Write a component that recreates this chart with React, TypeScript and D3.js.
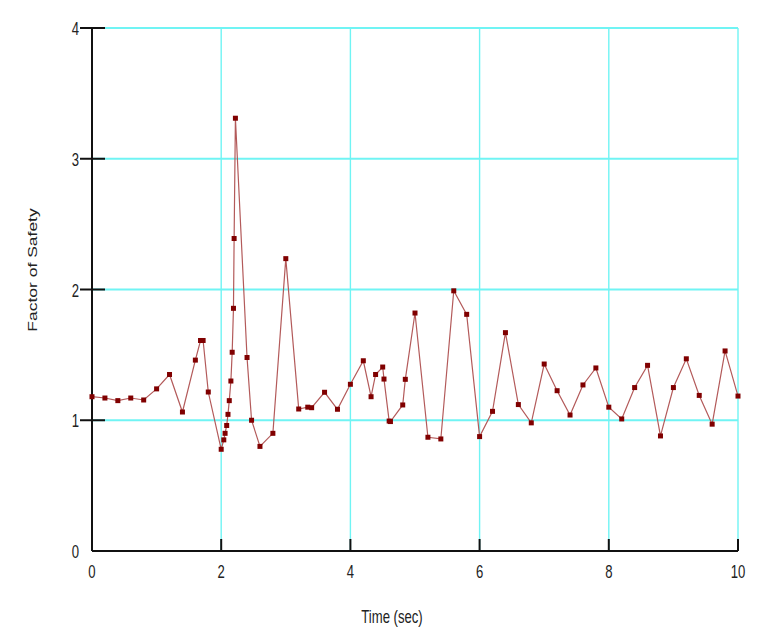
import React from "react";
import * as d3 from "d3";

const times = [0, 0.2, 0.4, 0.6, 0.8, 1.0, 1.2, 1.4, 1.6, 1.68, 1.72, 1.8, 2.0, 2.04, 2.06, 2.085, 2.105, 2.125, 2.15, 2.17, 2.19, 2.2, 2.22, 2.4, 2.47, 2.6, 2.8, 3.0, 3.2, 3.34, 3.4, 3.6, 3.8, 4.0, 4.2, 4.32, 4.39, 4.5, 4.52, 4.6, 4.62, 4.81, 4.85, 5.0, 5.2, 5.4, 5.6, 5.8, 6.0, 6.2, 6.4, 6.6, 6.8, 7.0, 7.2, 7.4, 7.6, 7.8, 8.0, 8.2, 8.4, 8.6, 8.8, 9.0, 9.2, 9.4, 9.6, 9.8, 10.0];
const factorOfSafety = [1.18, 1.17, 1.15, 1.17, 1.155, 1.24, 1.35, 1.063, 1.46, 1.61, 1.61, 1.216, 0.778, 0.85, 0.9, 0.96, 1.045, 1.15, 1.3, 1.52, 1.856, 2.39, 3.31, 1.48, 1.0, 0.8, 0.9, 2.236, 1.086, 1.1, 1.096, 1.214, 1.084, 1.275, 1.455, 1.18, 1.35, 1.407, 1.315, 0.994, 0.99, 1.117, 1.313, 1.82, 0.87, 0.857, 1.99, 1.81, 0.875, 1.068, 1.67, 1.12, 0.98, 1.43, 1.226, 1.04, 1.27, 1.4, 1.1, 1.01, 1.25, 1.42, 0.88, 1.25, 1.47, 1.19, 0.97, 1.53, 1.185];
const xTicks = [0, 2, 4, 6, 8, 10];
const yTicks = [0, 1, 2, 3, 4];

export default function App() {
  const x = d3.scaleLinear().domain([0, 10]).range([92, 738]);
  const y = d3.scaleLinear().domain([0, 4]).range([551, 28]);
  const data = times.map((t, i) => [t, factorOfSafety[i]] as [number, number]);
  const line = d3.line<[number, number]>().x(d => x(d[0])).y(d => y(d[1]));
  const font = "'Liberation Sans', Arial, sans-serif";
  const grid = "#70f4f4";
  const fs = 17.5;
  const sx = 0.75;
  return (
    <svg width={763} height={630} style={{ position: "absolute", left: 0, top: 0, background: "#fff" }}>
      {xTicks.filter(t => t > 0).map(t => (
        <line key={"gx" + t} x1={x(t)} x2={x(t)} y1={y(0)} y2={y(4)} stroke={grid} strokeWidth={1.4} />
      ))}
      {yTicks.filter(t => t > 0).map(t => (
        <line key={"gy" + t} x1={x(0)} x2={x(10)} y1={y(t)} y2={y(t)} stroke={grid} strokeWidth={1.8} />
      ))}
      <line x1={x(0)} x2={x(0)} y1={y(4)} y2={y(0)} stroke="#111" strokeWidth={2} />
      <line x1={x(0)} x2={x(10)} y1={y(0)} y2={y(0)} stroke="#111" strokeWidth={2} />
      {xTicks.filter(t => t > 0).map(t => (
        <line key={"tx" + t} x1={x(t)} x2={x(t)} y1={y(0)} y2={y(0) - 12} stroke="#111" strokeWidth={2} />
      ))}
      {yTicks.filter(t => t > 0).map(t => (
        <line key={"ty" + t} x1={x(0) - 12} x2={x(0) + 13} y1={y(t)} y2={y(t)} stroke="#111" strokeWidth={2} />
      ))}
      {xTicks.map(t => (
        <text key={"lx" + t} transform={`translate(${x(t)},${y(0) + 27}) scale(${sx},1)`} textAnchor="middle" fontFamily={font} fontSize={fs} fill="#222">{t}</text>
      ))}
      {yTicks.map(t => (
        <text key={"ly" + t} transform={`translate(${x(0) - 13},${y(t) + 7}) scale(${sx},1)`} textAnchor="end" fontFamily={font} fontSize={fs} fill="#222">{t}</text>
      ))}
      <text transform={`translate(392,623) scale(${sx},1)`} textAnchor="middle" fontFamily={font} fontSize={fs} fill="#222">Time (sec)</text>
      <text transform={`translate(37,270) scale(${sx},1) rotate(-90)`} textAnchor="middle" fontFamily={font} fontSize={fs} fill="#222">Factor of Safety</text>
      <path d={line(data) || ""} fill="none" stroke="#b35a5a" strokeWidth={1.2} />
      {data.map((d, i) => (
        <rect key={"p" + i} x={x(d[0]) - 2.5} y={y(d[1]) - 2.5} width={5} height={5} fill="#800000" />
      ))}
    </svg>
  );
}
